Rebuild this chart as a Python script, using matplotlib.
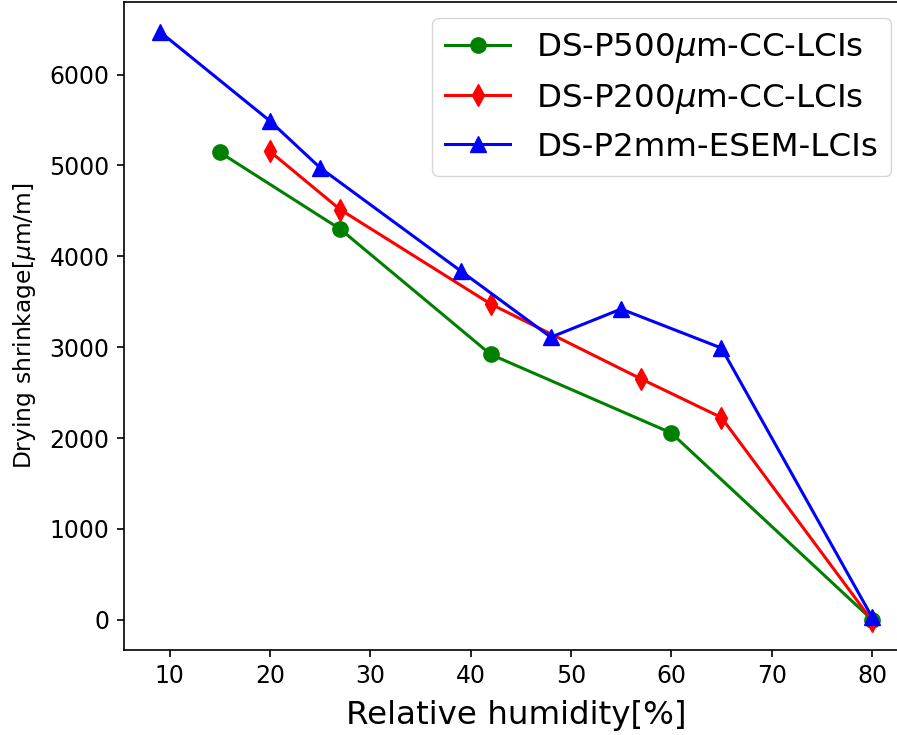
import matplotlib
matplotlib.use("Agg")
import matplotlib.pyplot as plt

# relative humidity [%] and drying shrinkage [um/m]
rh_p500 = [15, 27, 42, 60, 80]
ds_p500 = [5145, 4300, 2920, 2055, 0]

rh_p200 = [20, 27, 42, 57, 65, 80]
ds_p200 = [5155, 4515, 3475, 2650, 2225, -10]

rh_p2mm = [9, 20, 25, 39, 48, 55, 65, 80]
ds_p2mm = [6475, 5490, 4975, 3840, 3110, 3420, 2990, 30]

labels = ["DS-P500$\\mu$m-CC-LCIs", "DS-P200$\\mu$m-CC-LCIs", "DS-P2mm-ESEM-LCIs"]

fig = plt.figure(figsize=(8.97, 7.35), dpi=100)
ax = fig.add_axes([0.1382, 0.1156, 0.8736, 0.8816])

ax.plot(rh_p500, ds_p500, color="green", marker="o", markersize=11, linewidth=2.2, label=labels[0])
ax.plot(rh_p200, ds_p200, color="red", marker="d", markersize=11, linewidth=2.2, label=labels[1])
ax.plot(rh_p2mm, ds_p2mm, color="blue", marker="^", markersize=11, linewidth=2.2, label=labels[2])

ax.set_xlabel("Relative humidity[%]", fontsize=23.4, labelpad=8)
ax.set_ylabel("Drying shrinkage[$\\mu$m/m]", fontsize=16.8, labelpad=8)
ax.tick_params(labelsize=17, length=5.2, width=1.2, pad=5.2)
for sp in ax.spines.values():
    sp.set_linewidth(1.2)

ax.legend(loc="upper right", fontsize=23.4)

fig.savefig("out.png", dpi=100)
